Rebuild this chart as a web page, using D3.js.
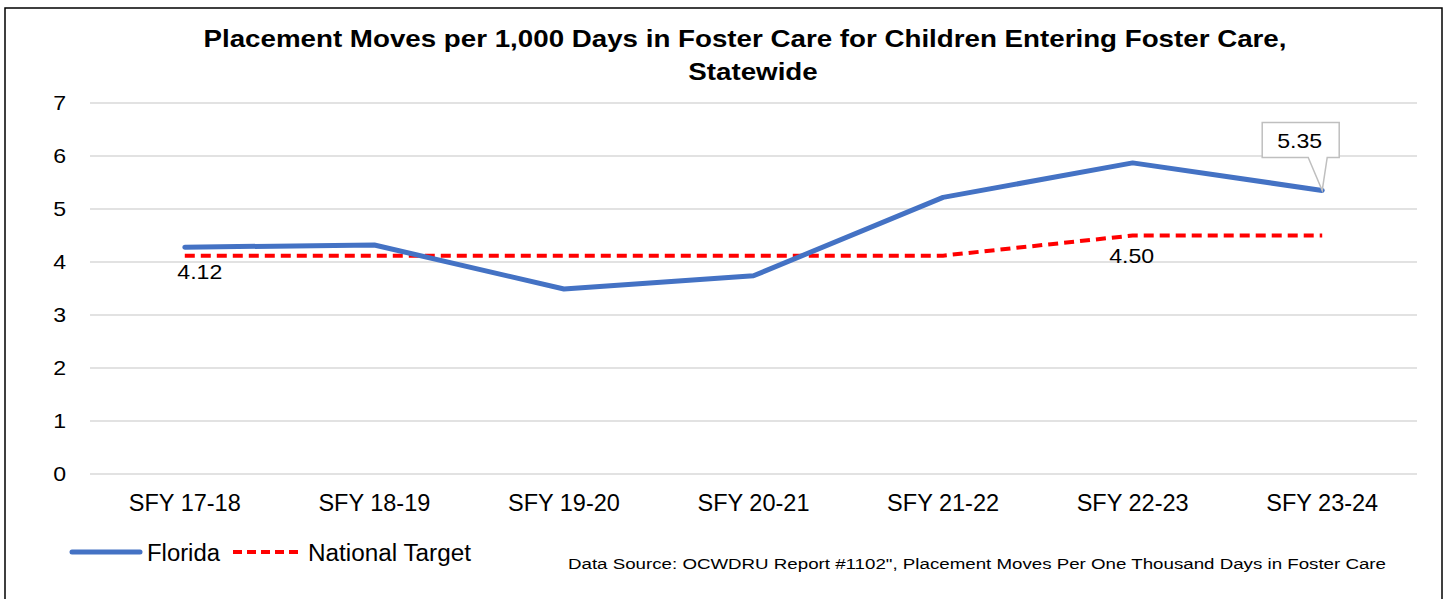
<!DOCTYPE html>
<html>
<head>
<meta charset="utf-8">
<script src="https://cdn.jsdelivr.net/npm/d3@7"></script>
<style>
  body { margin: 0; background: #fff; }
  svg { font-family: Arial, "Liberation Sans", sans-serif; }
</style>
</head>
<body>
<svg id="chart" width="1452" height="599"></svg>
<script>
// chart data
var categories = ["SFY 17-18", "SFY 18-19", "SFY 19-20", "SFY 20-21", "SFY 21-22", "SFY 22-23", "SFY 23-24"];
var florida = [4.28, 4.32, 3.49, 3.74, 5.22, 5.87, 5.35];
var nationalTarget = [4.12, 4.12, 4.12, 4.12, 4.12, 4.50, 4.50];
var yTicks = [0, 1, 2, 3, 4, 5, 6, 7];

var FONT = "Arial, 'Liberation Sans', sans-serif";

var svg = d3.select("#chart"),
    margin = {top: 103, right: 35, bottom: 125, left: 90},
    width = +svg.attr("width") - margin.left - margin.right,
    height = +svg.attr("height") - margin.top - margin.bottom;

// the source picture is a bit wider than normal Arial, so stretch text
function stretch(sel, factor) {
  sel.each(function() {
    var len = this.getComputedTextLength();
    d3.select(this)
      .attr("textLength", len * factor)
      .attr("lengthAdjust", "spacingAndGlyphs");
  });
}

// outer border
svg.append("rect")
    .attr("x", 5).attr("y", 8)
    .attr("width", 1437).attr("height", 600)
    .attr("fill", "none").attr("stroke", "#000").attr("stroke-width", 1.5);

// title
var t1 = svg.append("text")
    .attr("x", 745).attr("y", 47)
    .attr("text-anchor", "middle").attr("font-weight", "bold")
    .attr("font-size", "24px").attr("fill", "#000")
    .text("Placement Moves per 1,000 Days in Foster Care for Children Entering Foster Care,");
var t2 = svg.append("text")
    .attr("x", 753).attr("y", 80)
    .attr("text-anchor", "middle").attr("font-weight", "bold")
    .attr("font-size", "24px").attr("fill", "#000")
    .text("Statewide");
stretch(t1, 1.155);
stretch(t2, 1.155);

var x = d3.scaleBand().domain(categories).range([0, width]);
var y = d3.scaleLinear().domain([0, 7]).range([height, 0]);
var cx = function(i) { return x(categories[i]) + x.bandwidth() / 2; };

var g = svg.append("g")
    .attr("transform", "translate(" + margin.left + "," + margin.top + ")");

// gridlines
g.selectAll(".grid")
    .data(yTicks)
    .enter().append("line")
      .attr("class", "grid")
      .attr("x1", 0).attr("x2", width)
      .attr("y1", function(d) { return y(d); })
      .attr("y2", function(d) { return y(d); })
      .attr("stroke", "#d9d9d9").attr("stroke-width", 1.5);

// y axis labels
var yAxis = g.append("g")
    .call(d3.axisLeft(y).tickValues(yTicks).tickFormat(d3.format("d")).tickSize(0).tickPadding(24));
yAxis.select(".domain").remove();
yAxis.selectAll("text").attr("font-size", "21px").attr("fill", "#000").attr("font-family", FONT);
stretch(yAxis.selectAll("text"), 1.1);

// x axis labels
var xAxis = g.append("g")
    .attr("transform", "translate(0," + height + ")")
    .call(d3.axisBottom(x).tickSize(0).tickPadding(20));
xAxis.select(".domain").remove();
xAxis.selectAll("text").attr("font-size", "23.5px").attr("fill", "#000").attr("font-family", FONT);

var line = function(values) {
  return d3.line()
      .x(function(d, i) { return cx(i); })
      .y(function(d) { return y(d); })(values);
};

// national target
g.append("path")
    .attr("d", line(nationalTarget))
    .attr("fill", "none").attr("stroke", "#ff0000")
    .attr("stroke-width", 4).attr("stroke-dasharray", "10,6");

// florida
g.append("path")
    .attr("d", line(florida))
    .attr("fill", "none").attr("stroke", "#4472c4")
    .attr("stroke-width", 5).attr("stroke-linejoin", "round").attr("stroke-linecap", "round");

// data labels for target
var lab1 = g.append("text")
    .attr("x", cx(0) + 15).attr("y", y(nationalTarget[0]) + 23)
    .attr("text-anchor", "middle").attr("font-size", "21px").attr("fill", "#000")
    .text(nationalTarget[0].toFixed(2));
var lab2 = g.append("text")
    .attr("x", cx(5) - 1).attr("y", y(nationalTarget[5]) + 27)
    .attr("text-anchor", "middle").attr("font-size", "21px").attr("fill", "#000")
    .text(nationalTarget[5].toFixed(2));
stretch(lab1, 1.1);
stretch(lab2, 1.1);

// callout for last florida value
var lastX = cx(6), lastY = y(florida[6]);
var bx = lastX - 60, by = lastY - 68, bw = 77, bh = 35;
g.append("path")
    .attr("d", "M" + bx + "," + by + "H" + (bx + bw) + "V" + (by + bh) +
               "H" + (bx + 65) + "L" + lastX + "," + lastY + "L" + (bx + 46) + "," + (by + bh) +
               "H" + bx + "Z")
    .attr("fill", "#fff").attr("stroke", "#bfbfbf").attr("stroke-width", 1.5);
var lab3 = g.append("text")
    .attr("x", bx + bw / 2 - 1).attr("y", by + 26)
    .attr("text-anchor", "middle").attr("font-size", "21px").attr("fill", "#000")
    .text(florida[6].toFixed(2));
stretch(lab3, 1.1);

// legend
var legend = svg.append("g").attr("transform", "translate(0,552)");
legend.append("line").attr("x1", 72).attr("x2", 140).attr("y1", 0).attr("y2", 0)
    .attr("stroke", "#4472c4").attr("stroke-width", 5).attr("stroke-linecap", "round");
var lg1 = legend.append("text").attr("x", 147).attr("y", 9).attr("font-size", "23px").text("Florida");
legend.append("line").attr("x1", 233).attr("x2", 302).attr("y1", 0).attr("y2", 0)
    .attr("stroke", "#ff0000").attr("stroke-width", 4).attr("stroke-dasharray", "9,5");
var lg2 = legend.append("text").attr("x", 308).attr("y", 9).attr("font-size", "23px").text("National Target");
lg1.attr("textLength", 73).attr("lengthAdjust", "spacingAndGlyphs");
lg2.attr("textLength", 163).attr("lengthAdjust", "spacingAndGlyphs");

var src = svg.append("text")
    .attr("x", 568).attr("y", 569)
    .attr("font-size", "15.4px").attr("fill", "#000")
    .text("Data Source: OCWDRU Report #1102\", Placement Moves Per One Thousand Days in Foster Care");
src.attr("textLength", 818).attr("lengthAdjust", "spacingAndGlyphs");
</script>
</body>
</html>
